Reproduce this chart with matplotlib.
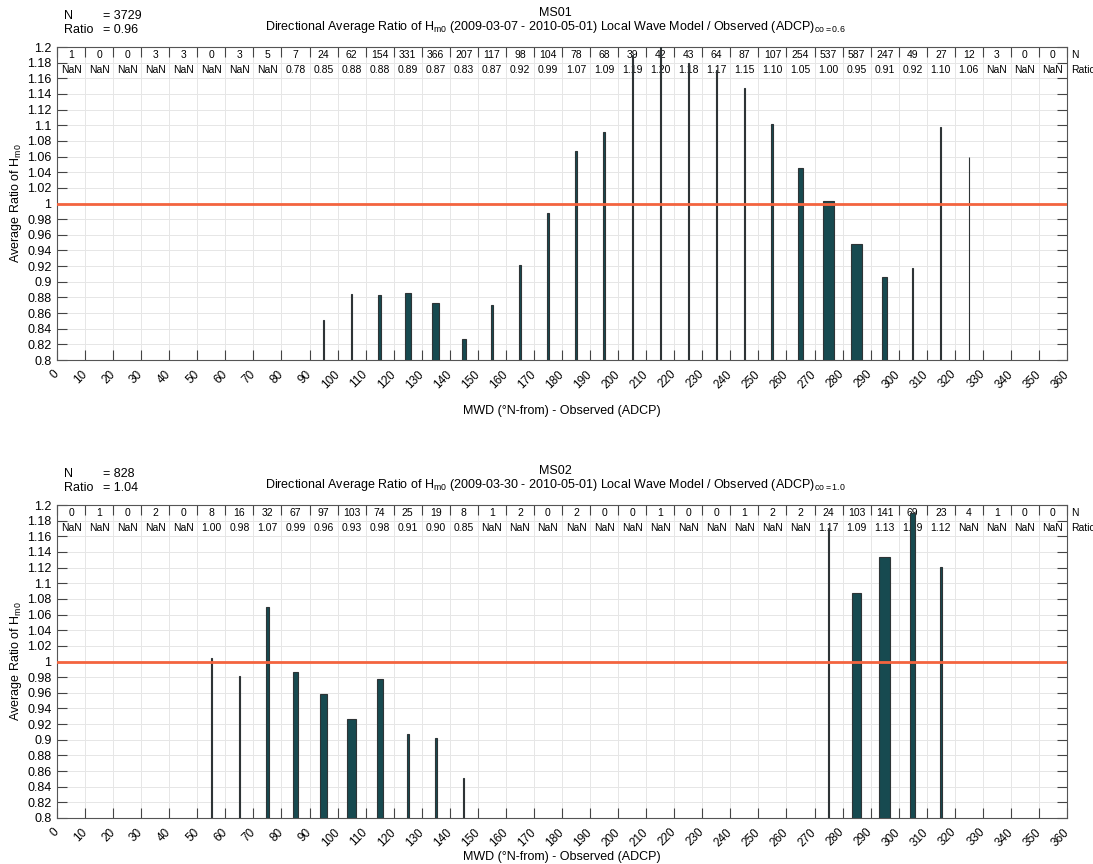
import numpy as np
import matplotlib
matplotlib.use("Agg")
import matplotlib.pyplot as plt

plt.rcParams['font.family'] = ['Liberation Sans', 'DejaVu Sans']
plt.rcParams['mathtext.default'] = 'regular'

# Sektory kierunkowe (co 10 stopni)
dir_edges = np.arange(0, 361, 10)
dir_centers = np.arange(5, 360, 10)
xtick_labels = [str(d) for d in dir_edges]
ytick_values = np.round(np.arange(0.8, 1.2001, 0.02), 2)

nan = np.nan

# MS01
ms01_n = [1, 0, 0, 3, 3, 0, 3, 5, 7, 24, 62, 154, 331, 366, 207, 117, 98, 104,
          78, 68, 39, 42, 43, 64, 87, 107, 254, 537, 587, 247, 49, 27, 12, 3, 0, 0]
ms01_ratio = [nan, nan, nan, nan, nan, nan, nan, nan, 0.78, 0.851, 0.884, 0.883,
              0.886, 0.873, 0.827, 0.870, 0.922, 0.988, 1.067, 1.092, 1.19, 1.20,
              1.18, 1.17, 1.148, 1.101, 1.046, 1.003, 0.948, 0.906, 0.918, 1.098,
              1.060, nan, nan, nan]
ms01_total_n = 3729
ms01_total_ratio = 0.96

# MS02
ms02_n = [0, 1, 0, 2, 0, 8, 16, 32, 67, 97, 103, 74, 25, 19, 8, 1, 2, 0,
          2, 0, 0, 1, 0, 0, 1, 2, 2, 24, 103, 141, 69, 23, 4, 1, 0, 0]
ms02_ratio = [nan, nan, nan, nan, nan, 1.004, 0.981, 1.070, 0.986, 0.959, 0.926,
              0.978, 0.907, 0.902, 0.851, nan, nan, nan,
              nan, nan, nan, nan, nan, nan, nan, nan, nan, 1.17, 1.088, 1.134,
              1.19, 1.121, nan, nan, nan, nan]
ms02_total_n = 828
ms02_total_ratio = 1.04

panels = [
    ("MS01", "2009-03-07 - 2010-05-01", "0.6", ms01_n, ms01_ratio, ms01_total_n, ms01_total_ratio, -0.145),
    ("MS02", "2009-03-30 - 2010-05-01", "1.0", ms02_n, ms02_ratio, ms02_total_n, ms02_total_ratio, -0.106),
]

W, H = 1093, 864
fig = plt.figure(figsize=(W / 100, H / 100), dpi=100)

bar_color = "#174a50"
line_color = "#f3643f"


def draw_panel(top_px, name, dates, co, n, ratio, total_n, total_ratio, xlab_y):
    left_px, right_px, bottom_px = 57, 1067, top_px + 313
    ax = fig.add_axes([left_px / W, 1 - bottom_px / H, (right_px - left_px) / W, 313 / H])
    n = np.array(n, dtype=float)
    ratio = np.array(ratio, dtype=float)
    ok = ~np.isnan(ratio)
    widths = 4.0 * n / n.max()

    ax.bar(dir_centers[ok], ratio[ok], width=widths[ok], color=bar_color,
           edgecolor="#2e3436", linewidth=0.8, zorder=4)
    ax.axhline(1.0, color=line_color, linewidth=2, zorder=5)

    ax.set_xlim(0, 360)
    ax.set_ylim(0.8, 1.2)
    ax.set_xticks(dir_edges)
    ax.set_xticklabels(xtick_labels, rotation=45, ha="right", va="center",
                       rotation_mode="anchor", fontsize=8.5)
    ax.set_yticks(ytick_values)
    ax.set_yticklabels(["%g" % v for v in ytick_values], fontsize=9)
    ax.tick_params(direction="in", length=7.5, width=0.8, top=True, right=True,
                   color="#444444", pad=4)
    ax.tick_params(axis="x", pad=9)
    ax.grid(True, color="#e6e6e6", linewidth=0.7, zorder=0)
    ax.set_axisbelow(True)
    for s in ax.spines.values():
        s.set_color("#555555")
        s.set_linewidth(0.8)

    # Tabela z liczebnością i stosunkiem
    for i, c in enumerate(dir_centers):
        ax.text(c, 1.19, "%d" % n[i], ha="center", va="center", fontsize=7.5, zorder=2)
        txt = "NaN" if np.isnan(ratio[i]) else "%.2f" % ratio[i]
        ax.text(c, 1.17, txt, ha="center", va="center", fontsize=7.5, zorder=2)
    ax.text(361.5, 1.19, "N", ha="left", va="center", fontsize=7.5, clip_on=False)
    ax.text(361.5, 1.17, "Ratio", ha="left", va="center", fontsize=7.5, clip_on=False)

    ax.set_xlabel("MWD (°N-from) - Observed (ADCP)", fontsize=9, labelpad=0)
    ax.xaxis.set_label_coords(0.5, xlab_y)
    ax.set_ylabel("Average Ratio of H$_{m0}$", fontsize=9, labelpad=2)

    # Nagłówek
    cx = 555 / W
    fig.text(cx, 1 - (top_px - 34) / H, name, ha="center", va="center", fontsize=9)
    fig.text(cx, 1 - (top_px - 20) / H,
             "Directional Average Ratio of H$_{m0}$ (%s) Local Wave Model / Observed (ADCP)$_{co=%s}$" % (dates, co),
             ha="center", va="center", fontsize=9)
    fig.text(64 / W, 1 - (top_px - 31) / H, "N", ha="left", va="center", fontsize=9)
    fig.text(103 / W, 1 - (top_px - 31) / H, "= %d" % total_n, ha="left", va="center", fontsize=9)
    fig.text(64 / W, 1 - (top_px - 17) / H, "Ratio", ha="left", va="center", fontsize=9)
    fig.text(103 / W, 1 - (top_px - 17) / H, "= %.2f" % total_ratio, ha="left", va="center", fontsize=9)
    return ax


for k, p in enumerate(panels):
    draw_panel(47 + k * 458, *p)

fig.savefig("out.png", dpi=100)
